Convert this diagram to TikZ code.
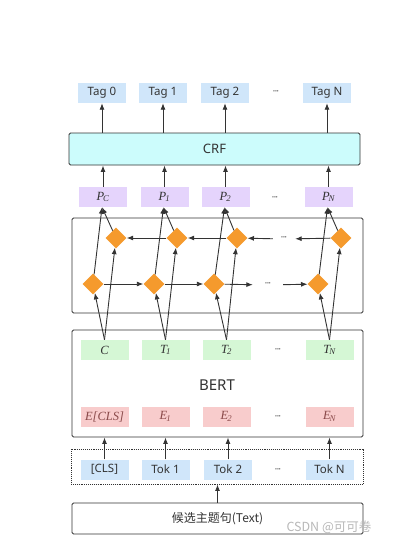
\documentclass[tikz,border=0pt]{standalone}
\usepackage{fontspec}
\setmainfont{Liberation Serif}
\setsansfont{Noto Sans}
\newfontfamily\cjk{Noto Sans CJK SC}
\usetikzlibrary{shapes.geometric,arrows.meta}
\definecolor{tagblue}{HTML}{D0E6FA}
\definecolor{plav}{HTML}{E5D4FC}
\definecolor{tgreen}{HTML}{D5F7D5}
\definecolor{epink}{HTML}{F8CCCC}
\definecolor{crfcyan}{HTML}{CCFCFC}
\definecolor{dorange}{HTML}{F59A2D}
\definecolor{linegray}{HTML}{333333}
\definecolor{etext}{HTML}{8A4A4A}
\definecolor{wmgray}{HTML}{B8B8B8}
\tikzset{
  sbox/.style={minimum width=48pt,minimum height=20pt,inner sep=0pt,font=\sffamily\fontsize{11.5}{13}\selectfont,text=linegray},
  tagbox/.style={sbox,fill=tagblue},
  pbox/.style={sbox,fill=plav,font=\itshape\fontsize{12.5}{13}\selectfont},
  tbox/.style={sbox,fill=tgreen,font=\itshape\fontsize{12.5}{13}\selectfont},
  ebox/.style={sbox,fill=epink,font=\itshape\fontsize{12.5}{13}\selectfont,text=etext},
  bigbox/.style={draw=linegray,line width=0.9pt,rounded corners=1.5pt},
  dia/.style={diamond,fill=dorange,minimum size=21pt,inner sep=0pt},
  dots/.style={font=\sffamily\bfseries\fontsize{9}{10}\selectfont,text=linegray,inner sep=0pt},
  arr/.style={draw=linegray,line width=0.9pt,-{Latex[length=6.5pt,width=5pt]}},
}
\newcommand{\mydots}{\raisebox{1pt}{·\kern-0.5pt·\kern-0.5pt·}}
\begin{document}
\begin{tikzpicture}[x=1pt,y=-1pt]
\useasboundingbox[fill=white] (0,0) rectangle (400,543);
% Tags
\node[tagbox] (tag0) at (102,93) {Tag 0};
\node[tagbox] (tag1) at (163,93) {Tag 1};
\node[tagbox] (tag2) at (225,93) {Tag 2};
\node[dots] (tagd) at (276,93) {\mydots};
\node[tagbox] (tagn) at (327,93) {Tag N};
% CRF
\node[bigbox,fill=crfcyan,minimum width=291pt,minimum height=32pt,inner sep=0pt,font=\sffamily\fontsize{13}{14}\selectfont,text=linegray] (crf) at (214.5,149) {CRF};
% P
\node[pbox] (pc) at (103,197) {P\textsubscript{\kern-1pt C}};
\node[pbox] (p1) at (164.5,197) {P\textsubscript{\kern-1pt 1}};
\node[pbox] (p2) at (225.5,197) {P\textsubscript{\kern-1pt 2}};
\node[dots] (pd) at (275,199) {\mydots};
\node[pbox] (pn) at (328.5,197) {P\textsubscript{\kern-1pt N}};
% LSTM box
\node[bigbox,minimum width=291pt,minimum height=95pt,inner sep=0pt] (lstm) at (217.5,265.5) {};
% diamonds
\node[dia] (udc) at (116,238) {};
\node[dia] (ud1) at (177,238) {};
\node[dia] (ud2) at (237,238) {};
\node[dots,minimum width=22pt] (udd) at (284,239) {\mydots};
\node[dia] (udn) at (341,238) {};
\node[dia] (ldc) at (93,284) {};
\node[dia] (ld1) at (154,284) {};
\node[dia] (ld2) at (214,284) {};
\node[dots,minimum width=30pt] (ldd) at (268,285) {\mydots};
\node[dia] (ldn) at (318,284) {};
% BERT
\node[bigbox,minimum width=291pt,minimum height=107pt,inner sep=0pt] (bert) at (217.5,383.5) {};
\node[font=\sffamily\fontsize{15}{16}\selectfont,text=linegray] (bertl) at (217,385) {BERT};
\node[tbox] (tc) at (104.5,350) {C};
\node[tbox] (t1) at (165.5,350) {T\textsubscript{\kern-1pt 1}};
\node[tbox] (t2) at (226.5,350) {T\textsubscript{\kern-1pt 2}};
\node[dots] (td) at (278,351) {\mydots};
\node[tbox] (tn) at (329.5,350) {T\textsubscript{\kern-1pt N}};
\node[ebox] (ec) at (104.5,416.5) {E{[}CLS{]}};
\node[ebox] (e1) at (165.5,416.5) {E\textsubscript{\kern-1pt 1}};
\node[ebox] (e2) at (226.5,416.5) {E\textsubscript{\kern-1pt 2}};
\node[dots] (ed) at (278,418) {\mydots};
\node[ebox] (en) at (329.5,416.5) {E\textsubscript{\kern-1pt N}};
% Tokens
\node[draw=linegray,densely dotted,line width=0.9pt,minimum width=292pt,minimum height=35pt,inner sep=0pt] (tokbox) at (217,466.5) {};
\node[tagbox] (tokc) at (104.5,469.5) {{[}CLS{]}};
\node[tagbox] (tok1) at (165.5,469.5) {Tok 1};
\node[tagbox] (tok2) at (228,469.5) {Tok 2};
\node[dots] (tokd) at (278,471) {\mydots};
\node[tagbox] (tokn) at (329.5,469.5) {Tok N};
% Text
\node[bigbox,minimum width=291pt,minimum height=31pt,inner sep=0pt,font=\cjk\fontsize{12}{13}\selectfont,text=linegray] (text) at (217.5,518.5) {候选主题句(Text)};
\node[font=\cjk\fontsize{12.5}{13}\selectfont,text=wmgray,anchor=west] (wm) at (283,527) {CSDN @可可卷};
% arrows: tags
\foreach \t in {tag0,tag1,tag2,tagn} \draw[arr] (\t.south |- crf.north) -- (\t.south);
\foreach \p in {pc,p1,p2,pn} \draw[arr] (\p.north) -- (\p.north |- crf.south);
% diamond rows
\draw[arr] (udn) -- (udd);
\draw[arr] (udd) -- (ud2);
\draw[arr] (ud2) -- (ud1);
\draw[arr] (ud1) -- (udc);
\draw[arr] (ldc) -- (ld1);
\draw[arr] (ld1) -- (ld2);
\draw[arr] (ld2) -- (ldd);
\draw[arr] (ldd) -- (ldn);
% to P
\foreach \l/\u/\p in {ldc/udc/pc,ld1/ud1/p1,ld2/ud2/p2,ldn/udn/pn}{
  \draw[arr] (\l) -- ([xshift=-1pt]\p.south);
  \draw[arr] (\u) -- ([xshift=-1pt]\p.south);
}
% from T
\foreach \t/\l/\u in {tc/ldc/udc,t1/ld1/ud1,t2/ld2/ud2,tn/ldn/udn}{
  \draw[arr] (\t.north) -- (\l);
  \draw[arr] (\t.north) -- (\u);
}
% tokens to BERT
\foreach \t in {tokc,tok1,tok2,tokn} \draw[arr] (\t.north) -- (\t.north |- bert.south);
\draw[arr] (text.north) -- (text.north |- tokbox.south);
\end{tikzpicture}
\end{document}
